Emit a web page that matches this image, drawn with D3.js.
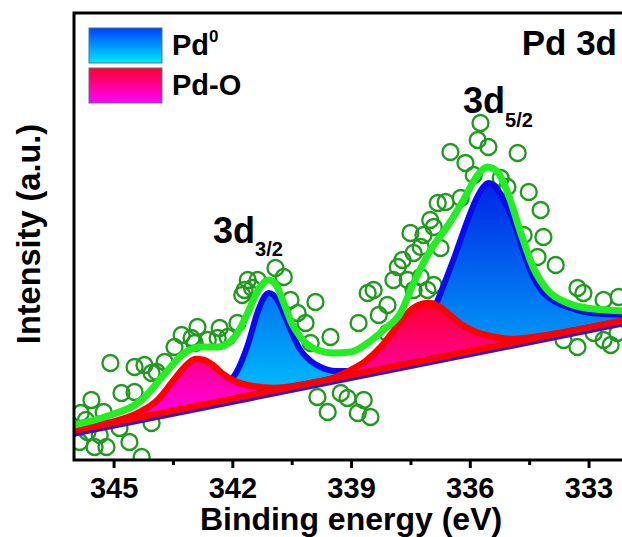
<!DOCTYPE html>
<html><head><meta charset="utf-8">
<script src="https://cdn.jsdelivr.net/npm/d3@7"></script>
<style>
body{margin:0;background:#fff;}
svg{display:block;font-family:Arial,"Liberation Sans",sans-serif;font-weight:bold;}
</style></head><body>
<svg id="chart" width="622" height="537"></svg>
<script>
// ---- data (binding energy in eV, intensity in a.u.) ----
const xTicks = [345, 342, 339, 336, 333];
const xMinorTicks = [343.5, 340.5, 337.5, 334.5];

const rawE = [345.83,345.56,345.25,345.08,344.80,344.47,344.47,344.22,344.04,343.91,343.71,343.46,343.28,343.03,342.88,342.95,342.62,342.32,342.37,342.12,341.87,
  345.86,345.48,345.18,344.60,344.04,344.29,345.66,344.85,345.70,345.35,
  341.61,341.36,341.69,340.91,340.70,340.53,339.90,340.35,340.15,340.02,339.52,338.81,338.58,338.43,338.08,337.82,337.93,337.50,337.42,337.24,337.17,336.91,336.81,337.57,337.24,337.42,337.07,338.08,
  341.75,341.50,338.30,337.70,337.00,
  339.85,339.59,339.26,339.09,338.68,338.51,338.83,
  335.73,335.80,335.53,336.49,334.79,336.11,335.90,335.22,335.05,334.51,336.61,336.23,334.21,336.74,334.64,334.14,334.29,333.83,336.91,333.28,333.13,332.62,332.24,
  333.63,333.28,332.87,332.62,332.27,332.44];
const rawI = [47,60,48,97,67,68,93,95,87,88,98,113,125,122,133,117,120,132,122,123,137,
  18,13,13,18,37,3,28,32,40,25,
  180,180,170,192,183,160,158,147,137,117,123,137,167,170,155,193,180,227,207,213,225,233,257,180,183,170,170,127,
  165,172,145,200,240,
  63,48,67,62,60,43,47,
  337,320,313,308,307,297,285,282,273,268,258,262,250,212,225,223,203,195,175,172,167,160,163,
  120,113,127,120,127,115];

const bgE = [346, 332];
const bgI = [28, 139];

const pd0E = [346.00,344.82,343.81,343.05,342.55,342.17,341.92,341.61,341.36,341.21,341.08,340.96,340.78,340.53,340.28,340.02,339.77,339.39,339.01,338.63,338.25,337.75,337.37,337.12,336.86,336.61,336.36,336.11,335.85,335.68,335.53,335.37,335.17,334.89,334.64,334.41,334.16,333.83,333.45,332.95,331.99];
const pd0I = [30,39,49,57,66,75,86,115,148,162,167,165,154,130,110,99,93,89,89,92,97,105,118,133,155,180,206,234,260,272,277,274,262,238,208,184,168,158,152,147,145];

const pdoE = [346.00,345.15,344.29,343.89,343.46,343.13,342.93,342.73,342.50,342.27,341.94,341.51,340.93,340.28,339.52,339.01,338.63,338.25,337.87,337.57,337.29,337.04,336.79,336.56,336.23,335.85,335.47,334.97,334.21,333.45,332.70,331.99];
const pdoI = [31,37,49,60,81,96,101,100,95,87,79,74,72,75,81,90,99,113,132,147,155,157,154,147,136,128,124,121,124,129,134,140];

const fitE = [346.00,345.15,344.29,343.71,343.21,342.78,342.37,341.94,341.61,341.41,341.26,341.08,340.91,340.70,340.50,340.28,339.85,339.44,339.01,338.58,338.18,337.75,337.42,336.99,336.56,336.16,335.80,335.55,335.30,335.05,334.72,334.39,334.04,333.53,332.87,331.99];
const fitI = [35,44,60,86,107,113,113,123,147,165,175,180,176,157,137,123,110,107,108,117,130,147,177,210,234,260,285,293,288,268,228,192,170,157,151,149];

const legendNames = ["Pd", "Pd-O"];

// ---- layout ----
const svg = d3.select("#chart");
const L = 74, T = 13, B = 460, W = 622;
const x = d3.scaleLinear().domain([346, 332]).range([L, L + 14 * 39.58]);
const y = d3.scaleLinear().domain([0, 447]).range([B, T]);
const bgAt = d3.scaleLinear().domain(bgE).range(bgI);

const defs = svg.append("defs");
defs.append("clipPath").attr("id", "plotClip").append("rect")
  .attr("x", L).attr("y", T).attr("width", W - L).attr("height", B - T);

function grad(id, c1, c2, y1, y2, units) {
  const g = defs.append("linearGradient").attr("id", id)
    .attr("x1", 0).attr("x2", 0).attr("y1", y1).attr("y2", y2);
  if (units) g.attr("gradientUnits", units);
  g.append("stop").attr("offset", "0%").attr("stop-color", c1);
  g.append("stop").attr("offset", "100%").attr("stop-color", c2);
}
grad("gBlue", "#0024e6", "#00d8ff", y(d3.max(pd0I)), y(bgI[0]), "userSpaceOnUse");
grad("gPink", "#ff0030", "#ff00ff", y(d3.max(pdoI)), y(bgI[0]), "userSpaceOnUse");
grad("gBlueLeg", "#0040ff", "#00e8ff", 0, 1);
grad("gPinkLeg", "#ff0030", "#ff00ff", 0, 1);

const plot = svg.append("g").attr("clip-path", "url(#plotClip)");

// raw data circles
const raw = rawE.map((e, i) => ({e, v: rawI[i]}));
plot.append("g").selectAll("circle").data(raw).join("circle")
  .attr("cx", d => x(d.e)).attr("cy", d => y(d.v)).attr("r", 8)
  .attr("fill", "none").attr("stroke", "#1f9a1f").attr("stroke-width", 2.3);

const curve = d3.curveMonotoneX;
function pts(E, I) { return E.map((e, i) => ({e, v: I[i]})); }
const pd0 = pts(pd0E, pd0I), pdo = pts(pdoE, pdoI), fit = pts(fitE, fitI), bg = pts(bgE, bgI);

const area = d3.area().curve(curve).x(d => x(d.e)).y0(d => y(bgAt(d.e))).y1(d => y(d.v));
const line = d3.line().curve(curve).x(d => x(d.e)).y(d => y(d.v));

// Pd0 component
plot.append("path").attr("d", area(pd0)).attr("fill", "url(#gBlue)");
plot.append("path").attr("d", line(pd0)).attr("fill", "none").attr("stroke", "#0a0aee").attr("stroke-width", 6);
// Pd-O component
plot.append("path").attr("d", area(pdo)).attr("fill", "url(#gPink)");
plot.append("path").attr("d", line(pdo)).attr("fill", "none").attr("stroke", "#ff0000").attr("stroke-width", 6.5);
// background
plot.append("path").attr("d", line(bg)).attr("fill", "none").attr("stroke", "#3a10c8").attr("stroke-width", 9);
plot.append("path").attr("d", line(bg)).attr("transform", "translate(0,-1.5)").attr("fill", "none").attr("stroke", "#ff0000").attr("stroke-width", 6.5);
// envelope
plot.append("path").attr("d", line(fit)).attr("fill", "none").attr("stroke", "#22ee22").attr("stroke-width", 7);

// ---- axes ----
const ax = svg.append("g").attr("transform", `translate(0,${B})`)
  .call(d3.axisBottom(x).tickValues(xTicks).tickFormat(d3.format("d")).tickSize(8).tickSizeOuter(0).tickPadding(9));
ax.select(".domain").remove();
ax.selectAll(".tick line").attr("stroke", "#000").attr("stroke-width", 3);
ax.selectAll(".tick text").attr("font-size", 29).attr("font-weight", "bold").attr("fill", "#000")
  .attr("font-family", "Arial, 'Liberation Sans', sans-serif");
const axm = svg.append("g").attr("transform", `translate(0,${B})`)
  .call(d3.axisBottom(x).tickValues(xMinorTicks).tickFormat("").tickSize(5).tickSizeOuter(0));
axm.select(".domain").remove();
axm.selectAll(".tick line").attr("stroke", "#000").attr("stroke-width", 3);

// frame
svg.append("path").attr("d", `M${W},${T}H${L}V${B}H${W}`)
  .attr("fill", "none").attr("stroke", "#000").attr("stroke-width", 3);

// titles
svg.append("text").attr("x", 351).attr("y", 530).attr("text-anchor", "middle")
  .attr("font-size", 32).text("Binding energy (eV)");
svg.append("text").attr("transform", "translate(40,234) rotate(-90)").attr("text-anchor", "middle")
  .attr("font-size", 32.5).text("Intensity (a.u.)");

// legend
const leg = svg.append("g");
leg.append("rect").attr("x", 89).attr("y", 28).attr("width", 73).attr("height", 35)
  .attr("fill", "url(#gBlueLeg)").attr("stroke", "#4a7a7a").attr("stroke-width", 1);
leg.append("rect").attr("x", 89).attr("y", 68).attr("width", 73).attr("height", 35)
  .attr("fill", "url(#gPinkLeg)").attr("stroke", "#4a7a7a").attr("stroke-width", 1);
const t1 = leg.append("text").attr("x", 172).attr("y", 55).attr("font-size", 29).text(legendNames[0]);
t1.append("tspan").attr("font-size", 17).attr("dy", -13).text("0");
leg.append("text").attr("x", 172).attr("y", 95).attr("font-size", 29).text(legendNames[1]);

// annotations
svg.append("text").attr("x", 617).attr("y", 55).attr("text-anchor", "end").attr("font-size", 35).text("Pd 3d");
const a1 = svg.append("text").attr("x", 213).attr("y", 243).attr("font-size", 36).text("3d");
a1.append("tspan").attr("font-size", 20).attr("dy", 13).text("3/2");
const a2 = svg.append("text").attr("x", 463).attr("y", 113).attr("font-size", 36).text("3d");
a2.append("tspan").attr("font-size", 20).attr("dy", 14).text("5/2");
</script>
</body></html>
